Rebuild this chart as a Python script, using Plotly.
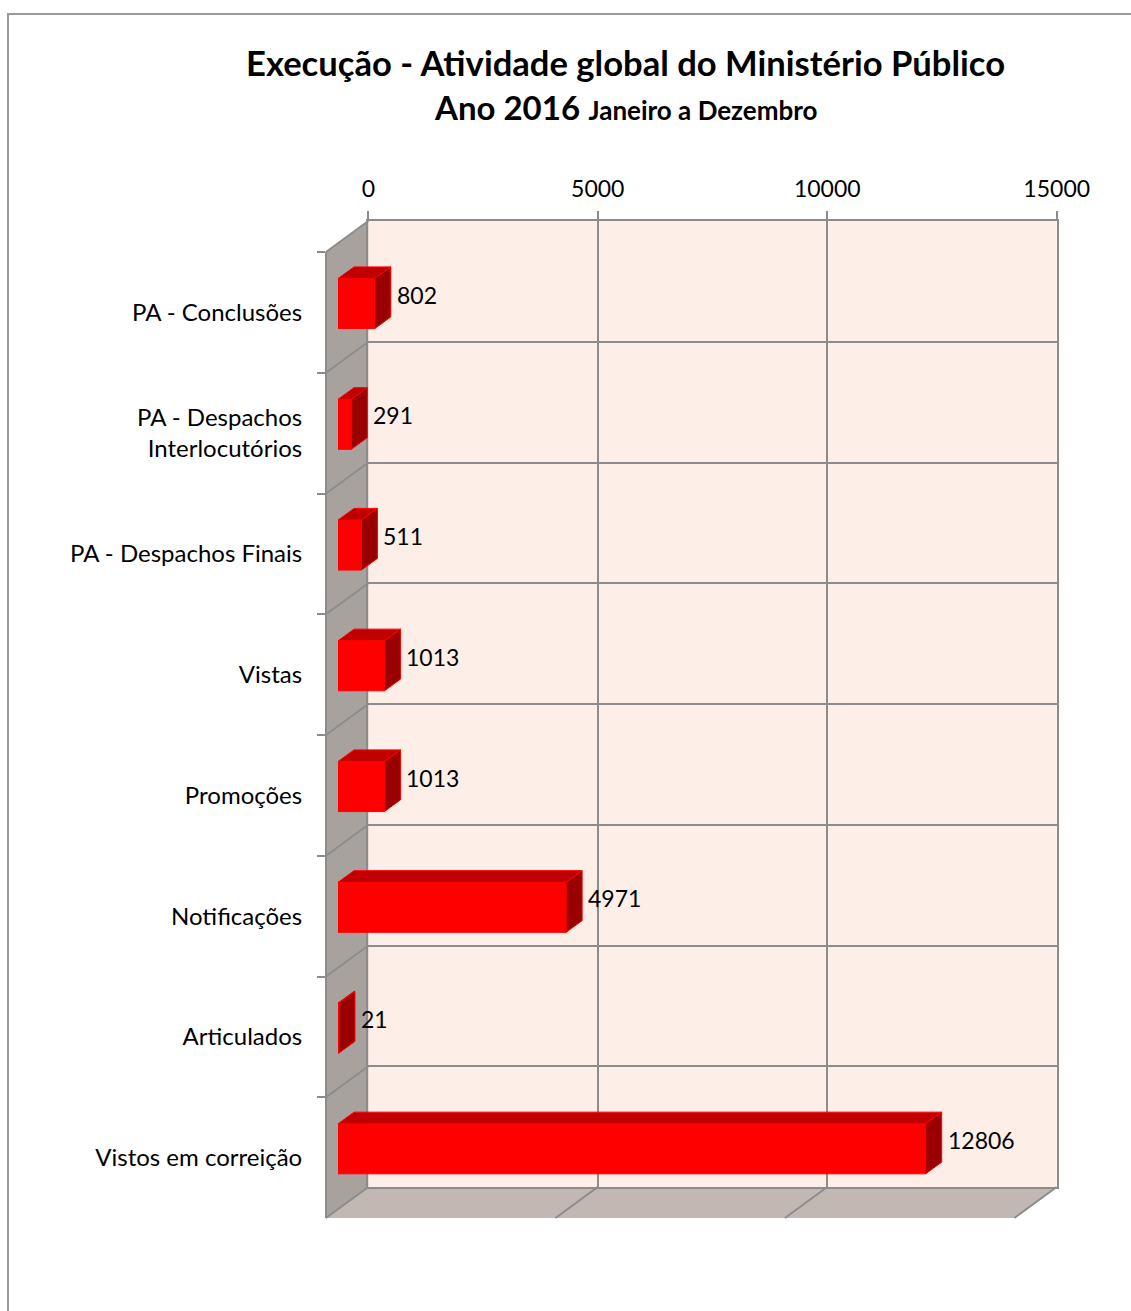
import plotly.graph_objects as go

# ---------------- data ----------------
categories = [
    "PA - Conclusões",
    "PA - Despachos<br>Interlocutórios",
    "PA - Despachos Finais",
    "Vistas",
    "Promoções",
    "Notificações",
    "Articulados",
    "Vistos em correição",
]
values = [802, 291, 511, 1013, 1013, 4971, 21, 12806]
x_ticks = [0, 5000, 10000, 15000]
x_tick_labels = ["0", "5000", "10000", "15000"]
x_max = 15000

title_line1 = "Execução - Atividade global do Ministério Público"
title_year = "Ano 2016"
title_period = "Janeiro a Dezembro"

# ---------------- geometry (pixels) ----------------
W, H = 1131, 1311
def X(p):
    return p / W
def Y(p):
    return 1 - p / H

BW_L, BW_R, BW_T, BW_B = 368.3, 1056.7, 221.0, 1187.0   # back wall
WDX, WDY = -42.3, 31.0                                   # wall depth offset
FP_L = BW_L + WDX                                        # front plane left
BAR_L = 338.0                                            # bar front face start
bar_dy = (BW_L - BAR_L) * WDY / -WDX                     # vertical offset of bar plane
n = len(categories)
row_px = (BW_B - BW_T) / n
px_per_unit = (BW_R - BW_L) / x_max
BAR_W = 0.414
DX_u = 16.0 / px_per_unit          # bar depth in data units (x)
DY_u = 11.7 / row_px               # bar depth in category units (y)

GRID = "#8c8c8c"
FONT = "Lato"
idx = list(range(n))

fig = go.Figure()

# back-wall subplot placeholder
fig.add_trace(go.Scatter(x=[0], y=[0], mode="markers", marker=dict(opacity=0),
                         hoverinfo="skip", showlegend=False, xaxis="x", yaxis="y"))

# bars: front faces
fig.add_trace(go.Bar(x=values, y=idx, orientation="h", width=BAR_W,
                     marker=dict(color="#FF0000", line=dict(color="#FF0000", width=1)),
                     hoverinfo="skip", showlegend=False, xaxis="x2", yaxis="y2"))

# top and side faces of bars
tx, ty, sx, sy = [], [], [], []
for i, v in zip(idx, values):
    yt = i - BAR_W / 2
    yb = i + BAR_W / 2
    tx += [0, v, v + DX_u, DX_u, 0, None]
    ty += [yt, yt, yt - DY_u, yt - DY_u, yt, None]
    sx += [v, v + DX_u, v + DX_u, v, v, None]
    sy += [yt, yt - DY_u, yb - DY_u, yb, yt, None]
fig.add_trace(go.Scatter(x=tx, y=ty, mode="lines", fill="toself", fillcolor="#C00000",
                         line=dict(color="#FF0000", width=1), hoverinfo="skip",
                         showlegend=False, xaxis="x2", yaxis="y2"))
fig.add_trace(go.Scatter(x=sx, y=sy, mode="lines", fill="toself", fillcolor="#990000",
                         line=dict(color="#FF0000", width=1), hoverinfo="skip",
                         showlegend=False, xaxis="x2", yaxis="y2"))

# category label axis carrier
fig.add_trace(go.Scatter(x=[0] * n, y=categories, mode="markers", marker=dict(opacity=0),
                         hoverinfo="skip", showlegend=False, xaxis="x2", yaxis="y3"))

# ---------------- decorative walls ----------------
def path(pts):
    return "M " + " L ".join(f"{X(a):.5f},{Y(b):.5f}" for a, b in pts) + " Z"

shapes = []
# outer frame
shapes.append(dict(type="rect", xref="paper", yref="paper", x0=X(8), y0=Y(14), x1=X(1145), y1=Y(1325),
                   line=dict(color="#9a9a9a", width=2), fillcolor="rgba(0,0,0,0)", layer="below"))
# back wall
shapes.append(dict(type="rect", xref="paper", yref="paper", x0=X(BW_L), y0=Y(BW_B), x1=X(BW_R), y1=Y(BW_T),
                   line=dict(width=0), fillcolor="#FDEEE8", layer="below"))
# side wall
shapes.append(dict(type="path", xref="paper", yref="paper",
                   path=path([(FP_L, BW_T + WDY), (BW_L, BW_T), (BW_L, BW_B), (FP_L, BW_B + WDY)]),
                   line=dict(width=0), fillcolor="#A8A29F", layer="below"))
# floor
shapes.append(dict(type="path", xref="paper", yref="paper",
                   path=path([(BW_L, BW_B), (BW_R, BW_B), (BW_R + WDX, BW_B + WDY), (FP_L, BW_B + WDY)]),
                   line=dict(width=0), fillcolor="#C1B8B4", layer="below"))
# diagonal lines on side wall
for k in range(n + 1):
    yy = BW_T + k * row_px
    shapes.append(dict(type="line", xref="paper", yref="paper", x0=X(BW_L), y0=Y(yy),
                       x1=X(FP_L), y1=Y(yy + WDY), line=dict(color=GRID, width=2), layer="below"))
# diagonal lines on floor
for t in x_ticks[1:]:
    xx = BW_L + t * px_per_unit
    shapes.append(dict(type="line", xref="paper", yref="paper", x0=X(xx), y0=Y(BW_B),
                       x1=X(xx + WDX), y1=Y(BW_B + WDY), line=dict(color=GRID, width=2), layer="below"))

# ---------------- annotations ----------------
annotations = []
for i, v in zip(idx, values):
    annotations.append(dict(x=v, y=i, xref="x2", yref="y2", text=str(v), showarrow=False,
                            xanchor="left", yanchor="middle", xshift=20, yshift=9,
                            font=dict(family=FONT, size=23, color="black")))
annotations.append(dict(x=X(625.5), y=Y(63), xref="paper", yref="paper", showarrow=False,
                        text=f"<b>{title_line1}</b>", xanchor="center", yanchor="middle",
                        font=dict(family=FONT, size=34.6, color="black")))
annotations.append(dict(x=X(625.5), y=Y(107), xref="paper", yref="paper", showarrow=False,
                        text=f"<b>{title_year}</b> <b><span style='font-size:26px'>{title_period}</span></b>",
                        xanchor="center", yanchor="middle",
                        font=dict(family=FONT, size=33, color="black")))

fig.update_layout(
    width=W, height=H,
    margin=dict(l=0, r=0, t=0, b=0, pad=0, autoexpand=False),
    paper_bgcolor="white", plot_bgcolor="rgba(0,0,0,0)",
    showlegend=False,
    shapes=shapes, annotations=annotations,
    xaxis=dict(domain=[X(BW_L), X(BW_R)], range=[0, x_max], side="top", anchor="y",
               tickvals=x_ticks, ticktext=x_tick_labels, ticks="outside", ticklen=8,
               tickwidth=2, tickcolor=GRID, ticklabelstandoff=5,
               showgrid=True, gridcolor=GRID, gridwidth=2, showline=True, linecolor=GRID,
               linewidth=2, mirror=True, zeroline=False, fixedrange=True, automargin=False,
               tickfont=dict(family=FONT, size=23, color="black")),
    yaxis=dict(domain=[Y(BW_B), Y(BW_T)], range=[n - 0.5, -0.5], anchor="x",
               tickvals=[k + 0.5 for k in range(n - 1)], showticklabels=False, ticks="",
               showgrid=True, gridcolor=GRID, gridwidth=2, showline=True, linecolor=GRID,
               linewidth=2, mirror=True, zeroline=False, fixedrange=True, automargin=False),
    xaxis2=dict(domain=[X(BAR_L), X(BAR_L + x_max * px_per_unit)], range=[0, x_max],
                anchor="y2", visible=False, fixedrange=True, automargin=False),
    yaxis2=dict(domain=[Y(BW_B + bar_dy), Y(BW_T + bar_dy)], range=[n - 0.5, -0.5],
                anchor="x2", visible=False, fixedrange=True, automargin=False),
    yaxis3=dict(domain=[Y(BW_B + WDY), Y(BW_T + WDY)], type="category",
                categoryorder="array", categoryarray=categories, range=[n - 0.5, -0.5],
                anchor="free", position=X(FP_L), side="left", tickson="boundaries",
                ticks="outside", ticklen=8, tickwidth=2, tickcolor=GRID,
                showline=True, linecolor=GRID, linewidth=2, showgrid=False, zeroline=False,
                ticklabelstandoff=18, fixedrange=True, automargin=False,
                tickfont=dict(family=FONT, size=24, color="black")),
)

fig.write_html("out.html")
